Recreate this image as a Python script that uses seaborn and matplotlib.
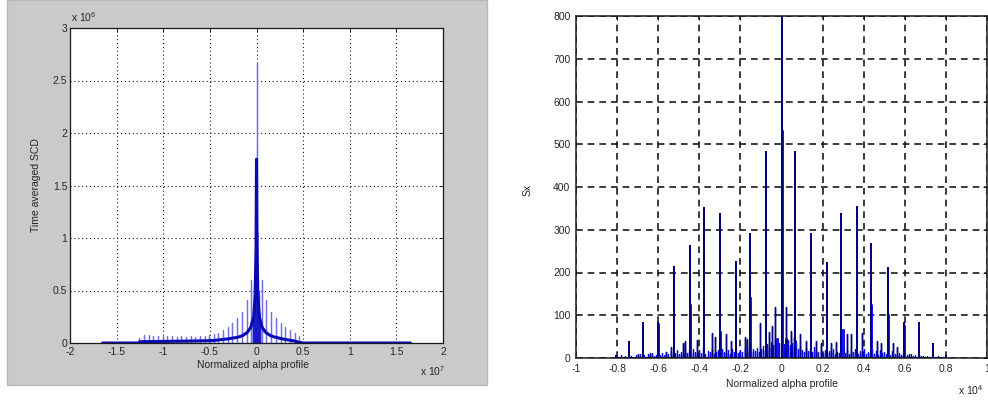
import numpy as np
import pandas as pd
import matplotlib
matplotlib.use("Agg")
import matplotlib.pyplot as plt
from matplotlib.patches import Rectangle
import seaborn as sns

# --- dados ---
# painel esquerdo: x em 1e7, y em 1e6
left_comb_x = [-1.255, -1.205, -1.155, -1.105, -1.055, -1.005, -0.955, -0.905,
               -0.855, -0.805, -0.755, -0.705, -0.655, -0.605, -0.555, -0.505,
               -0.455, -0.41, -0.36, -0.31, -0.26, -0.21, -0.155, -0.105,
               -0.055, -0.025, 0.0, 0.025, 0.055, 0.105, 0.155, 0.21, 0.26,
               0.31, 0.36, 0.41, 0.455]
left_comb_h = [0.05, 0.08, 0.075, 0.07, 0.07, 0.065, 0.07, 0.065,
               0.06, 0.065, 0.06, 0.065, 0.06, 0.065, 0.07, 0.08,
               0.09, 0.1, 0.12, 0.15, 0.19, 0.24, 0.3, 0.41,
               0.6, 0.5, 2.67, 0.5, 0.6, 0.41, 0.3, 0.24, 0.19,
               0.15, 0.12, 0.1, 0.07]
left_env_x = [-1.65, -1.27, -1.25, -1.0, -0.75, -0.5, -0.45, -0.4, -0.3, -0.2,
              -0.15, -0.1, -0.06, -0.03, -0.015, -0.005, 0.0, 0.005, 0.015,
              0.03, 0.06, 0.1, 0.15, 0.2, 0.3, 0.4, 0.45, 0.5, 1.0, 1.65]
left_env_y = [0.0, 0.0, 0.012, 0.015, 0.018, 0.022, 0.025, 0.03, 0.04, 0.055,
              0.07, 0.1, 0.15, 0.25, 0.45, 0.9, 1.75, 0.9, 0.45,
              0.25, 0.15, 0.1, 0.07, 0.055, 0.035, 0.02, 0.008, 0.0, 0.0, 0.0]
# nucleo escuro em volta de zero
left_core_x = [-0.035, -0.025, -0.015, -0.008, 0.0, 0.008, 0.015, 0.025, 0.035]
left_core_h = [0.2, 0.3, 0.45, 0.6, 1.06, 0.6, 0.45, 0.3, 0.2]
left_xticks = [-2, -1.5, -1, -0.5, 0, 0.5, 1, 1.5, 2]
left_yticks = [0, 0.5, 1, 1.5, 2, 2.5, 3]

# painel direito: x em 1e4
navy_x = [-0.805, -0.744, -0.675, -0.602, -0.523, -0.446, -0.377, -0.300,
          -0.222, -0.153, -0.076, 0.0, 0.068, 0.143, 0.220, 0.290, 0.366,
          0.435, 0.518, 0.596, 0.667, 0.736, 0.80]
navy_h = [5, 37, 82, 82, 212, 262, 350, 338,
          224, 290, 482, 820, 482, 290, 222, 338, 354,
          267, 210, 82, 82, 32, 4]
navy_small_x = [-0.70, -0.64, -0.56, -0.54, -0.48, -0.47, -0.41, -0.34, -0.325,
                -0.27, -0.246, -0.18, -0.17, -0.105, -0.06, -0.048, -0.03,
                0.023, 0.047, 0.063, 0.092, 0.119, 0.17, 0.19, 0.24, 0.264,
                0.317, 0.34, 0.394, 0.466, 0.483, 0.545, 0.563, 0.62]
navy_small_h = [10, 12, 15, 25, 35, 40, 42, 58, 50,
                55, 40, 50, 45, 82, 60, 75, 120,
                120, 62, 50, 55, 40, 40, 35, 35, 38,
                55, 55, 58, 40, 35, 35, 25, 10]
blue_peak_x = [-0.602, -0.446, -0.300, -0.153, -0.02, 0.0, 0.02, 0.068, 0.300, 0.435, 0.518, 0.596]
blue_peak_h = [80, 125, 60, 140, 45, 530, 45, 40, 65, 125, 100, 75]
blue_noise = [
    4, 2, 6, 3, 5, 2, 8, 4, 3, 6,
    5, 9, 4, 7, 3, 10, 6, 12, 5, 8,
    14, 7, 11, 6, 13, 9, 16, 8, 12, 18,
    10, 15, 9, 20, 12, 17, 11, 22, 14, 10,
    18, 12, 24, 10, 16, 13, 21, 9, 15, 19,
    12, 22, 14, 11, 18, 10, 20, 13, 16, 12,
    19, 14, 23, 12, 26, 15, 20, 17, 24, 14,
    22, 28, 18, 32, 25, 38, 30, 42, 26, 35,
    40,
    33, 28, 41, 30, 36, 24, 34, 20, 27, 19,
    15, 23, 16, 20, 13, 25, 17, 14, 21, 12,
    18, 11, 16, 13, 20, 10, 15, 12, 22, 14,
    11, 19, 9, 17, 13, 22, 10, 16, 12, 20,
    9, 14, 11, 21, 10, 16, 8, 19, 12, 15,
    9, 13, 7, 16, 10, 6, 12, 8, 11, 5,
    8, 4, 9, 5, 7, 3, 6, 4, 5, 3,
    4, 2, 5, 3, 2, 4, 2, 3, 2, 1,
]
blue_noise_x = np.round(np.arange(-0.80, 0.805, 0.01), 2)
right_xticks = [-1, -0.8, -0.6, -0.4, -0.2, 0, 0.2, 0.4, 0.6, 0.8, 1]
right_yticks = [0, 100, 200, 300, 400, 500, 600, 700, 800]

sns.set_theme(style="white")
plt.rcParams['font.family'] = ['Liberation Sans', 'DejaVu Sans']
plt.rcParams['mathtext.fontset'] = 'custom'
plt.rcParams['mathtext.rm'] = 'Liberation Sans'

TXT = '#262626'


def stems(xs, hs):
    # cada pico vira (x,0)->(x,h)->(x,0)
    px, py = [], []
    for x, h in zip(xs, hs):
        px += [x, x, x]
        py += [0, h, 0]
    return pd.DataFrame({'x': px, 'y': py})


def fmt(v):
    return '%g' % v


def style_axes(ax, xt, yt, lw_spine):
    ax.set_xticks(xt)
    ax.set_yticks(yt)
    ax.set_xticklabels([fmt(v) for v in xt])
    ax.set_yticklabels([fmt(v) for v in yt])
    ax.tick_params(direction='in', length=3, width=0.7, top=True, right=True,
                   labelsize=7.5, labelcolor=TXT, color='k', pad=3)
    for sp in ax.spines.values():
        sp.set_visible(True)
        sp.set_color('k')
        sp.set_linewidth(lw_spine)


fig = plt.figure(figsize=(9.88, 4.03), dpi=100)
fig.patch.set_facecolor('white')

# fundo cinza do painel esquerdo (janela do MATLAB)
fig.patches.append(Rectangle((7 / 988, 1 - 385 / 403), 480 / 988, 385 / 403,
                             transform=fig.transFigure, fc='#cacaca',
                             ec='#b8b8b8', lw=1, zorder=-5))

# --- painel esquerdo ---
ax1 = fig.add_axes([70 / 988, 1 - 343 / 403, 373 / 988, 315 / 403])
ax1.set_zorder(3)
ax1.set_facecolor('white')
ax1.set_axisbelow(True)
ax1.grid(True, color='k', linestyle=(0, (1, 2.5)), lw=0.8)
sns.lineplot(data=stems(left_comb_x, left_comb_h), x='x', y='y', sort=False,
             estimator=None, color='#7070e6', lw=0.9, ax=ax1)
sns.lineplot(data=stems(left_core_x, left_core_h), x='x', y='y', sort=False,
             estimator=None, color='#1a1ac8', lw=1.0, ax=ax1)
sns.lineplot(x=left_env_x, y=left_env_y, sort=False, estimator=None,
             color='#0a0ab4', lw=2.2, ax=ax1)
ax1.set_xlim(-2, 2)
ax1.set_ylim(0, 3)
style_axes(ax1, left_xticks, left_yticks, 0.9)
ax1.tick_params(axis='y', pad=2)
ax1.set_xlabel('Normalized alpha profile', fontsize=7.5, color=TXT)
ax1.set_ylabel('Time averaged SCD', fontsize=7.5, color=TXT)
ax1.xaxis.set_label_coords(0.49, -0.055)
ax1.yaxis.set_label_coords(-0.078, 0.5)
ax1.text(0.003, 1.014, r'x 10$^{6}$', transform=ax1.transAxes, fontsize=7.5,
         color=TXT, va='bottom', ha='left')
ax1.text(0.938, -0.105, r'x 10$^{7}$', transform=ax1.transAxes, fontsize=7.5,
         color=TXT, va='baseline', ha='left')

# --- painel direito ---
ax2 = fig.add_axes([576 / 988, 1 - 358 / 403, 411 / 988, 342 / 403])
ax2.set_zorder(3)
ax2.set_facecolor('white')
ax2.set_axisbelow(True)
ax2.grid(True, color='k', linestyle=(0, (4, 3)), lw=1.2)
sns.lineplot(data=stems(blue_noise_x, blue_noise), x='x', y='y', sort=False,
             estimator=None, color='#0000ff', lw=0.9, ax=ax2)
sns.lineplot(data=stems(blue_peak_x, blue_peak_h), x='x', y='y', sort=False,
             estimator=None, color='#1414ff', lw=2.0, ax=ax2)
sns.lineplot(data=stems(navy_small_x, navy_small_h), x='x', y='y', sort=False,
             estimator=None, color='#00007a', lw=1.0, ax=ax2)
sns.lineplot(data=stems(navy_x, navy_h), x='x', y='y', sort=False,
             estimator=None, color='#000080', lw=1.3, ax=ax2)
ax2.set_xlim(-1, 1)
ax2.set_ylim(0, 800)
style_axes(ax2, right_xticks, right_yticks, 1.1)
ax2.tick_params(axis='both', pad=4)
ax2.set_xlabel('Normalized alpha profile', fontsize=7.5, color=TXT)
ax2.set_ylabel('Sx', fontsize=7.5, color=TXT)
ax2.xaxis.set_label_coords(0.5, -0.062)
ax2.yaxis.set_label_coords(-0.105, 0.49)
ax2.text(0.929, -0.108, r'x 10$^{4}$', transform=ax2.transAxes, fontsize=7.5,
         color=TXT, va='baseline', ha='left', clip_on=False)

fig.savefig('out.png', dpi=100)
